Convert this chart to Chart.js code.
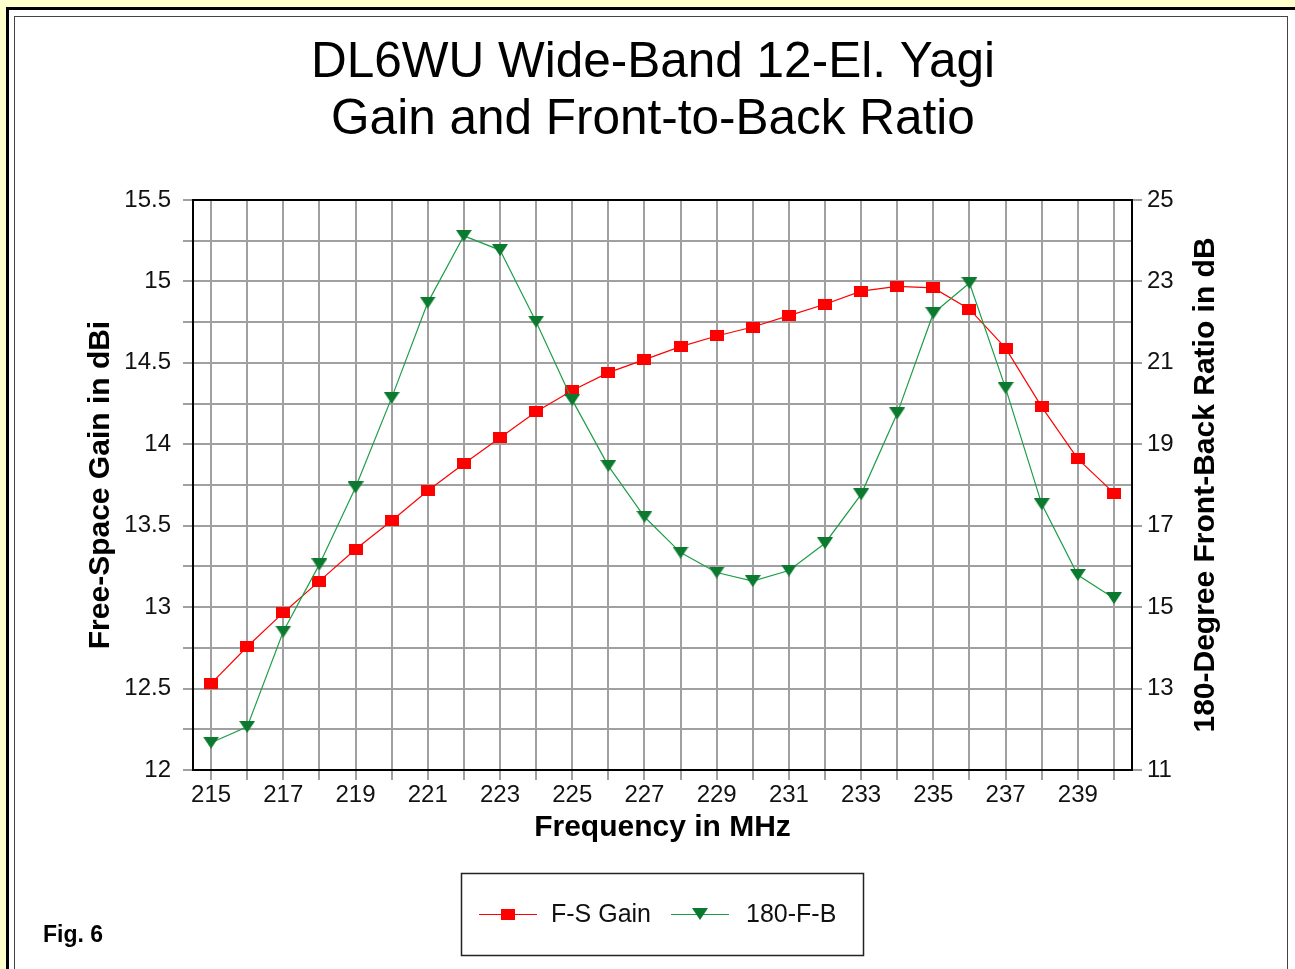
<!DOCTYPE html>
<html>
<head>
<meta charset="utf-8">
<script src="https://cdn.jsdelivr.net/npm/chart.js@4.4.1/dist/chart.umd.min.js"></script>
<style>
  html, body { margin:0; padding:0; width:1295px; height:969px; overflow:hidden; background:#FFFFCC; }
  #outer { position:absolute; left:6px; top:7px; width:1400px; height:1100px; border:3px solid #000; background:#fff; box-sizing:border-box; }
  #inner { position:absolute; left:14px; top:16px; width:1274px; height:1100px; border:1px solid #444; box-sizing:border-box; }
  #c { position:absolute; left:0; top:0; }
</style>
</head>
<body>
<div id="outer"></div>
<div id="inner"></div>
<canvas id="c" width="1295" height="969"></canvas>
<script>
// ---- Data ----
const titleLines = ['DL6WU Wide-Band 12-El. Yagi', 'Gain and Front-to-Back Ratio'];
const freqs = [215,216,217,218,219,220,221,222,223,224,225,226,227,228,229,230,231,232,233,234,235,236,237,238,239,240];
const gainDbi = [12.53,12.757,12.966,13.16,13.355,13.53,13.715,13.88,14.04,14.2,14.33,14.44,14.52,14.60,14.665,14.72,14.79,14.86,14.94,14.97,14.96,14.83,14.59,14.23,13.91,13.70];
const fbDb = [11.67,12.06,14.40,16.05,17.94,20.14,22.48,24.12,23.77,22.01,20.09,18.47,17.22,16.34,15.85,15.64,15.90,16.57,17.77,19.76,22.22,22.96,20.38,17.53,15.79,15.22];
const xTickLabels = [215,217,219,221,223,225,227,229,231,233,235,237,239];
const gainTickLabels = [12,12.5,13,13.5,14,14.5,15,15.5];
const fbTickLabels = [11,13,15,17,19,21,23,25];
const seriesNames = ['F-S Gain', '180-F-B'];
const xTitle = 'Frequency in MHz';
const yTitle = 'Free-Space Gain in dBi';
const y1Title = '180-Degree Front-Back Ratio in dB';
const figLabel = 'Fig. 6';

// ---- Styles ----
const FONT = "'Liberation Sans', Arial, Helvetica, sans-serif";
const RED = '#FF0000';
const GREEN_LINE = '#1E9E48';
const GREEN_MARK = '#0B7A2E';
const GRID = '#a0a0a0';

Chart.defaults.font.family = FONT;
Chart.defaults.color = '#000';

function makeSquare() {
  const c = document.createElement('canvas');
  c.width = 14; c.height = 11;
  const g = c.getContext('2d');
  g.fillStyle = RED; g.fillRect(0, 0, 14, 11);
  return c;
}
function makeTri() {
  const c = document.createElement('canvas');
  c.width = 16; c.height = 12;
  const g = c.getContext('2d');
  g.fillStyle = GREEN_MARK;
  g.beginPath(); g.moveTo(0, 0); g.lineTo(16, 0); g.lineTo(8, 12); g.closePath(); g.fill();
  return c;
}
const sqImg = makeSquare();
const triImg = makeTri();

const near = (a, b) => Math.abs(a - b) < 1e-6;

const extras = {
  id: 'extras',
  beforeDatasetsDraw(chart) {
    const {ctx, chartArea: a} = chart;
    ctx.save();
    ctx.strokeStyle = '#000'; ctx.lineWidth = 2;
    ctx.beginPath(); ctx.moveTo(a.left - 1, a.top); ctx.lineTo(a.right + 1, a.top); ctx.stroke();
    ctx.restore();
  },
  afterDraw(chart) {
    const {ctx, chartArea: a} = chart;
    const y1 = chart.scales.y1;
    ctx.save();
    // right axis title, reading bottom to top
    ctx.translate(y1.right - 17.4, (a.top + a.bottom) / 2);
    ctx.rotate(-Math.PI / 2);
    ctx.font = 'bold 30px ' + FONT;
    ctx.fillStyle = '#000'; ctx.textAlign = 'center'; ctx.textBaseline = 'middle';
    ctx.fillText(y1Title, 0, 0);
    ctx.restore();

    // legend box
    ctx.save();
    ctx.strokeStyle = '#222'; ctx.lineWidth = 1.5;
    ctx.strokeRect(461.5, 873.5, 402, 82);
    const ly = 914;
    const ds = chart.data.datasets;
    const items = [
      {x0: 479, x1: 537, tx: 551, color: ds[0].borderColor, img: sqImg, label: ds[0].label},
      {x0: 671, x1: 729, tx: 746, color: ds[1].borderColor, img: triImg, label: ds[1].label}
    ];
    ctx.font = '25px ' + FONT;
    ctx.textBaseline = 'middle'; ctx.textAlign = 'left';
    items.forEach(it => {
      ctx.strokeStyle = it.color; ctx.lineWidth = 1.2;
      ctx.beginPath(); ctx.moveTo(it.x0, ly + 0.5); ctx.lineTo(it.x1, ly + 0.5); ctx.stroke();
      const cx = (it.x0 + it.x1) / 2;
      ctx.drawImage(it.img, Math.round(cx - it.img.width / 2), Math.round(ly - it.img.height / 2));
      ctx.fillStyle = '#111';
      ctx.fillText(it.label, it.tx, ly + 1);
    });
    // figure label
    ctx.font = 'bold 23px ' + FONT;
    ctx.fillStyle = '#000'; ctx.textBaseline = 'alphabetic';
    ctx.fillText(figLabel, 43, 942);
    ctx.restore();
  }
};

new Chart(document.getElementById('c'), {
  type: 'line',
  data: {
    datasets: [
      {
        label: seriesNames[0],
        data: freqs.map((f, i) => ({x: f, y: gainDbi[i]})),
        yAxisID: 'y',
        borderColor: RED, backgroundColor: RED,
        borderWidth: 1.2, tension: 0, fill: false,
        pointStyle: sqImg, pointRadius: 7, pointHoverRadius: 7,
        order: 2
      },
      {
        label: seriesNames[1],
        data: freqs.map((f, i) => ({x: f, y: fbDb[i]})),
        yAxisID: 'y1',
        borderColor: GREEN_LINE, backgroundColor: GREEN_MARK,
        borderWidth: 1.2, tension: 0, fill: false,
        pointStyle: triImg, pointRadius: 8, pointHoverRadius: 8,
        order: 1
      }
    ]
  },
  options: {
    responsive: false,
    animation: false,
    devicePixelRatio: 1,
    events: [],
    layout: { padding: { left: 83, right: 72, top: 0, bottom: 123 } },
    plugins: {
      legend: { display: false },
      tooltip: { enabled: false },
      title: {
        display: true,
        text: titleLines,
        color: '#000',
        font: { family: FONT, size: 49.5, weight: 'normal', lineHeight: 57 / 49.5 },
        padding: { top: 34.5, bottom: 51.5 }
      }
    },
    scales: {
      x: {
        type: 'linear', position: 'bottom',
        min: 214.5, max: 240.5,
        afterBuildTicks: s => { s.ticks = freqs.map(v => ({value: v})); },
        afterFit: s => { s.height = 76; },
        ticks: {
          autoSkip: false, maxRotation: 0, padding: 1,
          font: { size: 24 }, color: '#111',
          callback: v => xTickLabels.some(t => near(t, v)) ? String(v) : ''
        },
        grid: { color: GRID, lineWidth: 2, tickLength: 10, tickColor: GRID },
        border: { color: '#000', width: 2 },
        title: { display: true, text: xTitle, color: '#000', font: { size: 30, weight: 'bold' }, padding: 0 }
      },
      y: {
        position: 'left',
        min: 12, max: 15.5,
        afterFit: s => { s.width = 110; },
        ticks: {
          stepSize: 0.25, autoSkip: false, padding: 12,
          font: { size: 24 }, color: '#111',
          callback: v => { const t = gainTickLabels.find(t => near(t, v)); return t === undefined ? '' : String(t); }
        },
        grid: { color: GRID, lineWidth: 2, tickLength: 10, tickColor: GRID },
        border: { color: '#000', width: 2 },
        title: { display: true, text: yTitle, color: '#000', font: { size: 30, weight: 'bold' }, padding: 0 }
      },
      y1: {
        position: 'right',
        min: 11, max: 25,
        afterFit: s => { s.width = 91; },
        afterBuildTicks: s => { s.ticks = fbTickLabels.map(v => ({value: v})); },
        ticks: {
          autoSkip: false, padding: 5,
          font: { size: 24 }, color: '#111',
          callback: v => String(v)
        },
        grid: { drawOnChartArea: false, color: GRID, lineWidth: 2, tickLength: 10, tickColor: GRID },
        border: { color: '#000', width: 2 },
        title: { display: false }
      }
    }
  },
  plugins: [extras]
});
</script>
</body>
</html>
